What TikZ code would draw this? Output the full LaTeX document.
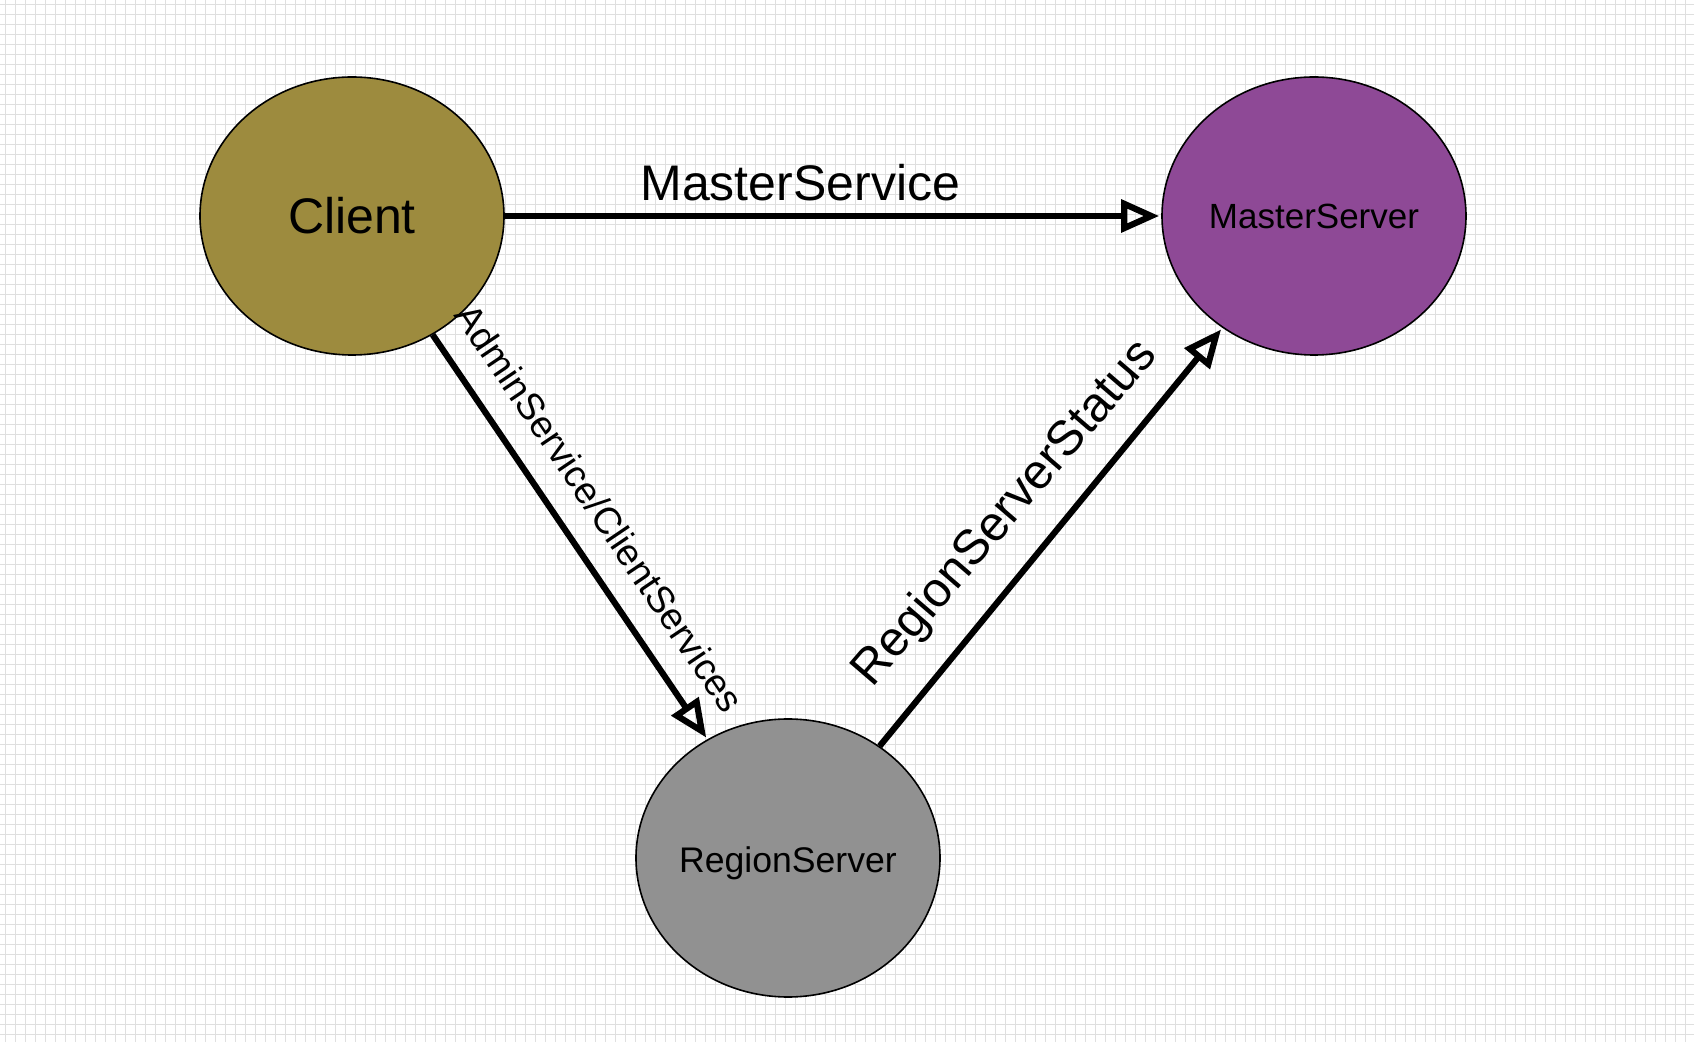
\documentclass[tikz,border=0pt]{standalone}
\usepackage{fontspec}
\setmainfont{Liberation Sans}
\usetikzlibrary{shapes.geometric,arrows.meta}
\definecolor{clientolive}{RGB}{157,139,62}
\definecolor{masterpurple}{RGB}{142,73,150}
\definecolor{regiongray}{RGB}{145,145,145}
\tikzset{
    server/.style={ellipse, draw=black, line width=0.8pt, minimum width=152pt, minimum height=139pt, inner sep=0pt},
    rpc/.style={line width=3.1pt, -{Triangle[open, length=19pt, width=16pt]}, shorten >=1pt}
}
\begin{document}
\begin{tikzpicture}[x=0.5pt,y=0.5pt,yscale=-1,xscale=1]
            \useasboundingbox (0, 0) rectangle (1694, 1042);
            %grid paper
            \fill [white] (0, 0) rectangle (1694, 1042);
            \foreach \i in {0, ..., 169} {
                \draw [line width=0.5pt, gray!25] (\i * 10 + 5, 0) -- (\i * 10 + 5, 1042);
            }
            \foreach \i in {0, ..., 104} {
                \draw [line width=0.5pt, gray!25] (0, \i * 10 + 5) -- (1694, \i * 10 + 5);
            }
            %
            %Servers
            \node [server, fill=clientolive] (client) at (352, 216) {\fontsize{25}{30}\selectfont Client};
            \node [server, fill=masterpurple] (master) at (1314, 216) {\fontsize{17.5}{21}\selectfont MasterServer};
            \node [server, fill=regiongray, text height=18.4pt, text depth=3.7pt, inner xsep=-8pt] (region) at (788, 858) {\fontsize{17.8}{21}\selectfont RegionServer};
            %
            %Services
            \draw [rpc] (client) -- (master) node[pos=0.45, above=4pt, inner sep=2pt] {\fontsize{25}{30}\selectfont MasterService};
            \draw [rpc] (client) -- (region);
            \draw [rpc] (region) -- (master);
            %
            %Service labels
            \node [rotate=-56, inner sep=0pt] (adminlabel) at (600, 508) {\fontsize{18.8}{22}\selectfont AdminService/ClientServices};
            \node [rotate=49.3, inner sep=0pt] (statuslabel) at (1006, 514) {\fontsize{24.5}{29}\selectfont RegionServerStatus};
        \end{tikzpicture}
\end{document}
